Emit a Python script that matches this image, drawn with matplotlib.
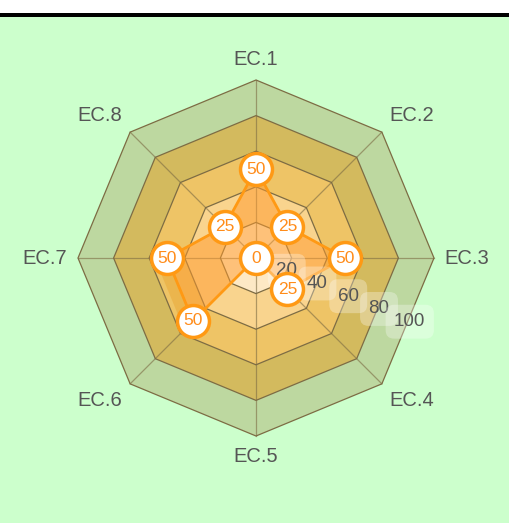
import matplotlib.pyplot as plt
import numpy as np
from matplotlib.patches import Rectangle, Polygon

categories = ['EC.1', 'EC.2', 'EC.3', 'EC.4', 'EC.5', 'EC.6', 'EC.7', 'EC.8']
values = [50, 25, 50, 25, 0, 50, 50, 25]
ring_levels = [20, 40, 60, 80, 100]
ring_labels = ['20', '40', '60', '80', '100']
band_colors = ['#fde9c5', '#f9d48e', '#eec466', '#d3ba5e', '#bdd8a0']

plt.rcParams['font.family'] = ['Liberation Sans', 'DejaVu Sans']

fig = plt.figure(figsize=(5.1, 5.23), dpi=100)
fig.patch.set_facecolor('white')
fig.patches.append(Rectangle((0, 0), 1, 1 - 17 / 523, transform=fig.transFigure,
                             facecolor='#ccffcc', edgecolor='none', zorder=-10))
fig.patches.append(Rectangle((0, 1 - 17 / 523), 1, 4 / 523, transform=fig.transFigure,
                             facecolor='black', edgecolor='none', zorder=-10))

ax = fig.add_axes([0, 0, 1, 1])
ax.patch.set_visible(False)
ppu = 1.78  # pixels per unit
ax.set_xlim(-256 / ppu, 254 / ppu)
ax.set_ylim(-(523 - 258) / ppu, 258 / ppu)
ax.set_aspect('equal')
ax.axis('off')

n = len(categories)
theta = np.arange(n) * 2 * np.pi / n


def xy(r, t):
    return np.asarray(r) * np.sin(t), np.asarray(r) * np.cos(t)


# bands, outer first
for lvl, col in zip(ring_levels[::-1], band_colors[::-1]):
    x, y = xy(lvl, theta)
    ax.add_patch(Polygon(np.column_stack([x, y]), closed=True, facecolor=col,
                         edgecolor='#7d6c44', lw=0.9, zorder=1))

# spokes
for t in theta:
    x, y = xy([0, ring_levels[-1]], t)
    ax.plot(x, y, color='#7d6c44', lw=0.9, alpha=0.6, zorder=2)

# data polygon
dx, dy = xy(values, theta)
ax.add_patch(Polygon(np.column_stack([dx, dy]), closed=True, facecolor='#ff9a2e',
                     alpha=0.5, edgecolor='none', zorder=3))
# slight darker strip seen along the EC.7 - EC.6 edge
sx, sy = dx[[6, 5]], dy[[6, 5]]
ax.add_patch(Polygon(np.column_stack([np.r_[sx, sx[::-1] - 7], np.r_[sy, sy[::-1]]]),
                     closed=True, facecolor='#e89a20', alpha=0.35, edgecolor='none', zorder=3))
ax.plot(np.append(dx, dx[0]), np.append(dy, dy[0]), color='#ff9914', lw=2, zorder=3)

# radial tick labels
t_lab = np.deg2rad(112.5)
for lvl, lab in zip(ring_levels, ring_labels):
    x, y = xy(lvl * 0.935, t_lab)
    ax.text(x, y, lab, ha='center', va='center', fontsize=13.5, color='#555555', zorder=4,
            bbox=dict(boxstyle='round,pad=0.45', facecolor='white', edgecolor='none', alpha=0.3))

# markers with value labels
ax.plot(dx, dy, 'o', ms=23, mfc='white', mec='#ff9914', mew=2.5, zorder=5)
for x, y, v in zip(dx, dy, values):
    ax.text(x, y, str(v), ha='center', va='center', fontsize=12.5, color='#ff8c1a', zorder=6)

# category labels
for t, name in zip(theta, categories):
    s, c = np.sin(t), np.cos(t)
    ha = 'left' if s > 0.1 else ('right' if s < -0.1 else 'center')
    va = 'bottom' if c > 0.1 else ('top' if c < -0.1 else 'center')
    x, y = xy(106, t)
    ax.text(x, y, name, ha=ha, va=va, fontsize=14.5, color='#555555')

fig.savefig('out.png', dpi=100)
